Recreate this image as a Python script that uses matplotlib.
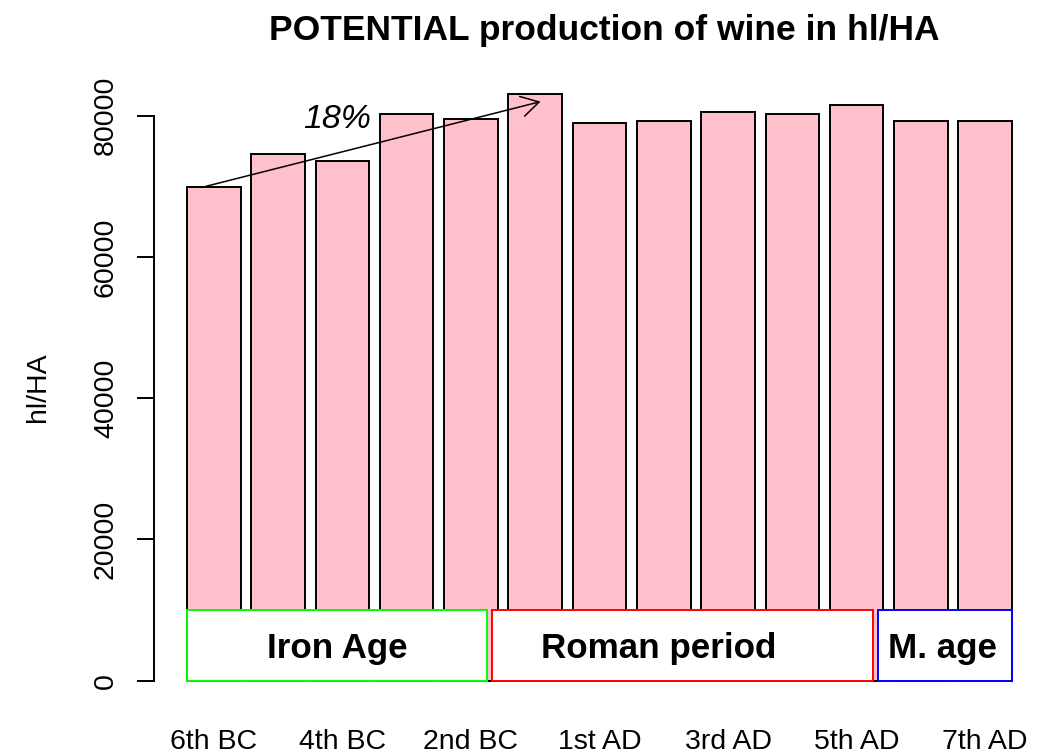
import numpy as np
import matplotlib
matplotlib.use("Agg")
import matplotlib.pyplot as plt
from matplotlib.patches import Rectangle

plt.rcParams["font.family"] = ["Liberation Sans", "DejaVu Sans"]

# Centuries and potential wine production (hl/HA)
centuries = ["6th BC", "5th BC", "4th BC", "3rd BC", "2nd BC", "1st BC",
             "1st AD", "2nd AD", "3rd AD", "4th AD", "5th AD", "6th AD", "7th AD"]
production = [69900, 74580, 73590, 80240, 79490, 83070,
              78970, 79210, 80480, 80240, 81510, 79210, 79210]

# Historical periods shown as boxes along the base of the bars
period_names = ["Iron Age", "Roman period", "M. age"]
period_start = [0.2, 5.9, 13.1]
period_end = [5.8, 13.0, 15.6]
period_label_x = [3.0, 9.0, 14.3]
period_colors = ["#00FF00", "#FF0000", "#0000FF"]
box_height = 10000

# Growth arrow between the first century and the peak
arrow_from = (0.55, 70000)
arrow_to = (6.8, 82000)
growth_label = "18%"
growth_label_pos = (3.0, 80000)

W, H = 1038, 754
fig = plt.figure(figsize=(W / 100, H / 100), dpi=100)
ax = fig.add_axes([154 / W, (H - 704.2) / H, 891 / W, 633.6 / H])

# barplot-style positions: width 1, spacing 0.2
pos = 0.7 + 1.2 * np.arange(len(centuries))
ax.bar(pos, production, width=1.0, color="#FFC0CB", edgecolor="black",
       linewidth=1.4, zorder=2)

left, right = pos[0] - 0.5, pos[-1] + 0.5
span = right - left
ax.set_xlim(left - 0.04 * span, right + 0.04 * span)
ymax = max(production)
ax.set_ylim(-0.04 * ymax, 1.04 * ymax)

for name, x0, x1, lx, c in zip(period_names, period_start, period_end,
                               period_label_x, period_colors):
    ax.add_patch(Rectangle((x0, 0), x1 - x0, box_height, facecolor="white",
                           edgecolor=c, linewidth=1.4, zorder=3))
    ax.text(lx, box_height / 2, name, ha="center", va="center_baseline",
            fontsize=25.2, fontweight="bold", zorder=4)

ax.annotate("", xy=arrow_to, xytext=arrow_from,
            arrowprops=dict(arrowstyle="->,head_length=1.26,head_width=0.73",
                            mutation_scale=10, lw=1.1, color="black",
                            shrinkA=0, shrinkB=0), zorder=5)
ax.text(*growth_label_pos, growth_label, ha="center", va="center_baseline",
        fontsize=24.5, fontstyle="italic", zorder=5)

# Axes styling
for side in ["top", "right", "bottom"]:
    ax.spines[side].set_visible(False)
ax.spines["left"].set_bounds(0, 80000)
ax.spines["left"].set_linewidth(1.4)

yt = np.arange(0, 80001, 20000)
ax.set_yticks(yt)
ax.set_yticklabels([str(v) for v in yt])
ax.tick_params(axis="y", length=12.2, width=1.4, pad=13, labelsize=20.5)
for lbl in ax.get_yticklabels():
    lbl.set_rotation(90)
    lbl.set_va("center")

ax.set_xticks(pos[::2])
ax.set_xticklabels(centuries[::2])
ax.tick_params(axis="x", length=0, pad=17.5, labelsize=20.5)

ax.set_ylabel("hl/HA", fontsize=20.5)
ax.yaxis.set_label_coords((51 - 154) / 891, 0.5)

fig.text(604 / W, 1 - 40 / H, "POTENTIAL production of wine in hl/HA",
         ha="center", va="baseline", fontsize=25.5, fontweight="bold")

fig.savefig("out.png", dpi=100)
